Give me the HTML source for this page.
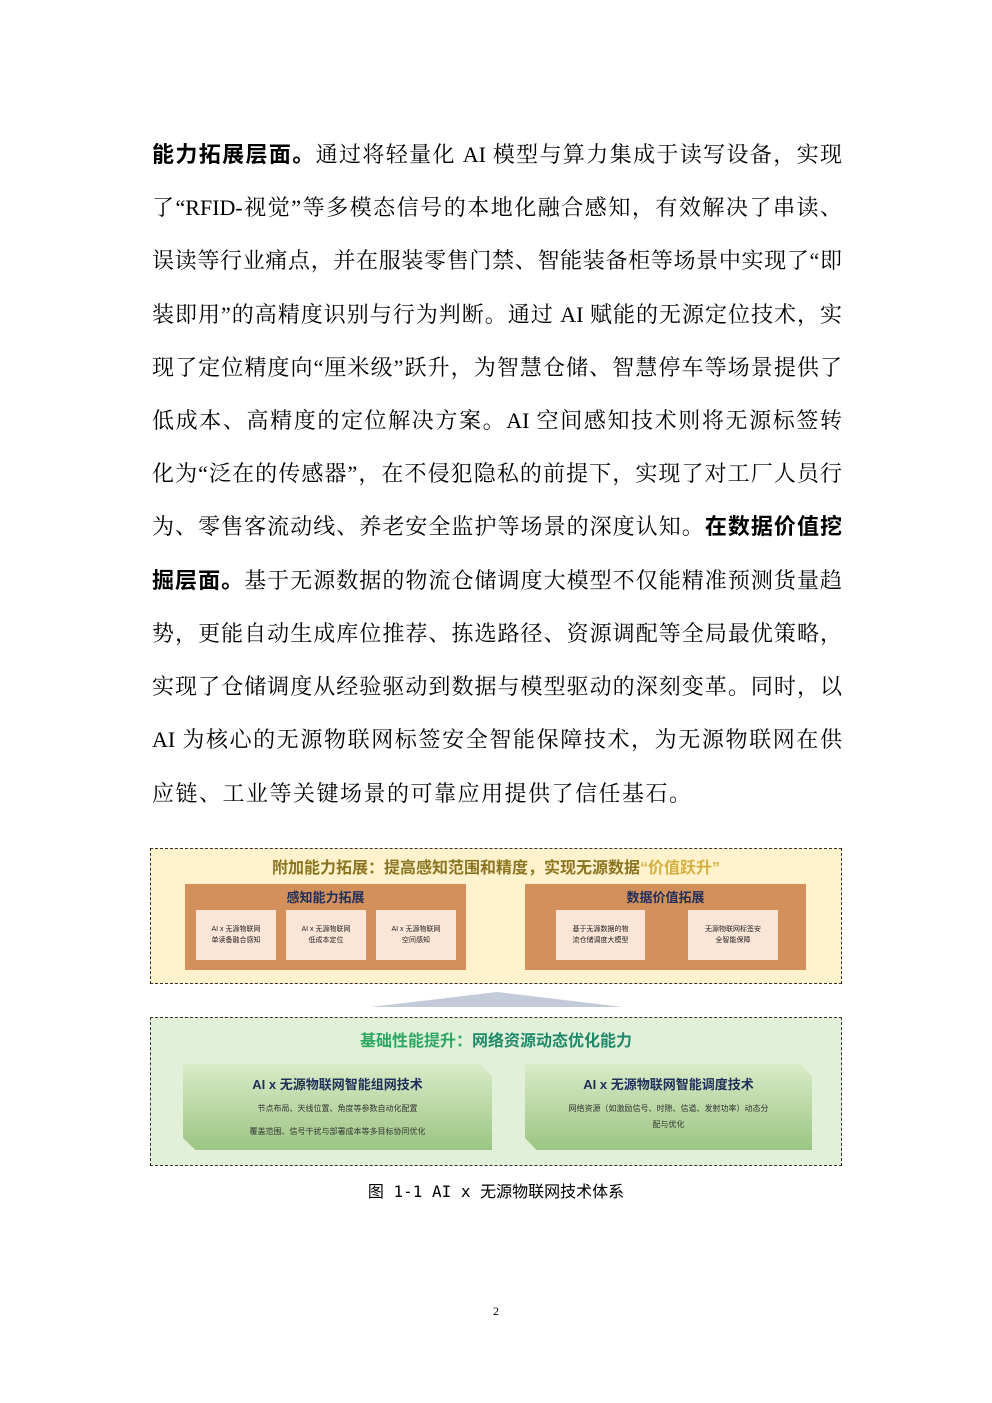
<!DOCTYPE html>
<html><head><meta charset="utf-8"><style>
body{margin:0;background:#fff;}
.page{position:relative;width:992px;height:1403px;overflow:hidden;font-family:"Liberation Serif","Noto Serif CJK SC",serif;color:#000;}
.ln{position:absolute;left:152px;width:690px;font-size:22px;line-height:30px;height:30px;text-align:justify;text-align-last:justify;white-space:nowrap;}
.ln.last{text-align-last:left;letter-spacing:1.5px;}
b{font-family:"Liberation Sans","Noto Sans CJK SC",sans-serif;font-weight:bold;}
.abs{position:absolute;box-sizing:border-box;}
.sans{font-family:"Liberation Sans","Noto Sans CJK SC",sans-serif;}
.ib{position:absolute;background:#fbe5d6;font-size:7px;line-height:11px;text-align:center;color:#222;display:flex;align-items:center;justify-content:center;font-family:"Liberation Sans","Noto Sans CJK SC",sans-serif;}
.gb{position:absolute;background:linear-gradient(#d9ebc8,#9cc583);clip-path:polygon(0 0,96% 0,100% 14%,100% 100%,4% 100%,0 86%);text-align:center;font-family:"Liberation Sans","Noto Sans CJK SC",sans-serif;}
</style></head><body><div class="page">
<div class="ln" style="top:140px"><b>能力拓展层面。</b>通过将轻量化 AI 模型与算力集成于读写设备，实现</div>
<div class="ln" style="top:193px">了“RFID-视觉”等多模态信号的本地化融合感知，有效解决了串读、</div>
<div class="ln" style="top:246px">误读等行业痛点，并在服装零售门禁、智能装备柜等场景中实现了“即</div>
<div class="ln" style="top:300px">装即用”的高精度识别与行为判断。通过 AI 赋能的无源定位技术，实</div>
<div class="ln" style="top:353px">现了定位精度向“厘米级”跃升，为智慧仓储、智慧停车等场景提供了</div>
<div class="ln" style="top:406px">低成本、高精度的定位解决方案。AI 空间感知技术则将无源标签转</div>
<div class="ln" style="top:459px">化为“泛在的传感器”，在不侵犯隐私的前提下，实现了对工厂人员行</div>
<div class="ln" style="top:512px">为、零售客流动线、养老安全监护等场景的深度认知。<b>在数据价值挖</b></div>
<div class="ln" style="top:566px"><b>掘层面。</b>基于无源数据的物流仓储调度大模型不仅能精准预测货量趋</div>
<div class="ln" style="top:619px">势，更能自动生成库位推荐、拣选路径、资源调配等全局最优策略，</div>
<div class="ln" style="top:672px">实现了仓储调度从经验驱动到数据与模型驱动的深刻变革。同时，以</div>
<div class="ln" style="top:725px">AI 为核心的无源物联网标签安全智能保障技术，为无源物联网在供</div>
<div class="ln last" style="top:779px">应链、工业等关键场景的可靠应用提供了信任基石。</div>

<div class="abs" style="left:150px;top:848px;width:692px;height:136px;background:#fff2cc;border:1px dashed #333;"></div>
<div class="abs sans" style="left:150px;top:854px;width:692px;text-align:center;font-size:16px;font-weight:bold;color:#8a7420;">附加能力拓展：提高感知范围和精度，实现无源数据<span style="color:#d4b040">“价值跃升”</span></div>
<div class="abs" style="left:185px;top:884px;width:281px;height:86px;background:#d4905a;"></div>
<div class="abs sans" style="left:185px;top:887px;width:281px;text-align:center;font-size:13px;font-weight:bold;color:#1f2f5c;">感知能力拓展</div>
<div class="ib" style="left:196px;top:910px;width:80px;height:50px;">AI x 无源物联网<br>单读备融合感知</div>
<div class="ib" style="left:286px;top:910px;width:80px;height:50px;">AI x 无源物联网<br>低成本定位</div>
<div class="ib" style="left:376px;top:910px;width:80px;height:50px;">AI x 无源物联网<br>空间感知</div>
<div class="abs" style="left:525px;top:884px;width:281px;height:86px;background:#d4905a;"></div>
<div class="abs sans" style="left:525px;top:887px;width:281px;text-align:center;font-size:13px;font-weight:bold;color:#1f2f5c;">数据价值拓展</div>
<div class="ib" style="left:556px;top:910px;width:89px;height:50px;">基于无源数据的物<br>流仓储调度大模型</div>
<div class="ib" style="left:688px;top:910px;width:90px;height:50px;">无源物联网标签安<br>全智能保障</div>

<svg class="abs" style="left:0;top:0" width="992" height="1403"><polygon points="370,1007 497,992 623,1007" fill="#c3cbd9"/></svg>

<div class="abs" style="left:150px;top:1017px;width:692px;height:149px;background:#e2efd9;border:1px dashed #333;"></div>
<div class="abs sans" style="left:150px;top:1027px;width:692px;text-align:center;font-size:16px;font-weight:bold;color:#2aa860;">基础性能提升：<span style="color:#1f8a6a">网络资源动态优化能力</span></div>
<div class="gb" style="left:183px;top:1064px;width:309px;height:86px;">
<div style="font-size:13px;font-weight:bold;color:#1f2f5c;margin-top:10px;">AI x 无源物联网智能组网技术</div>
<div style="font-size:8px;color:#333;margin-top:10px;">节点布局、天线位置、角度等参数自动化配置</div>
<div style="font-size:8px;color:#333;margin-top:12px;">覆盖范围、信号干扰与部署成本等多目标协同优化</div></div>
<div class="gb" style="left:525px;top:1064px;width:287px;height:86px;">
<div style="font-size:13px;font-weight:bold;color:#1f2f5c;margin-top:10px;">AI x 无源物联网智能调度技术</div>
<div style="font-size:8px;color:#333;margin-top:8px;line-height:16px;">网络资源（如激励信号、时隙、信道、发射功率）动态分<br>配与优化</div></div>

<div class="abs" style="left:0;top:1178px;width:992px;text-align:center;font-size:16px;font-family:'DejaVu Sans Mono','Noto Sans CJK SC',monospace;">图 1-1 AI x 无源物联网技术体系</div>
<div class="abs" style="left:0;top:1304px;width:992px;text-align:center;font-size:12px;">2</div>
</div></body></html>
